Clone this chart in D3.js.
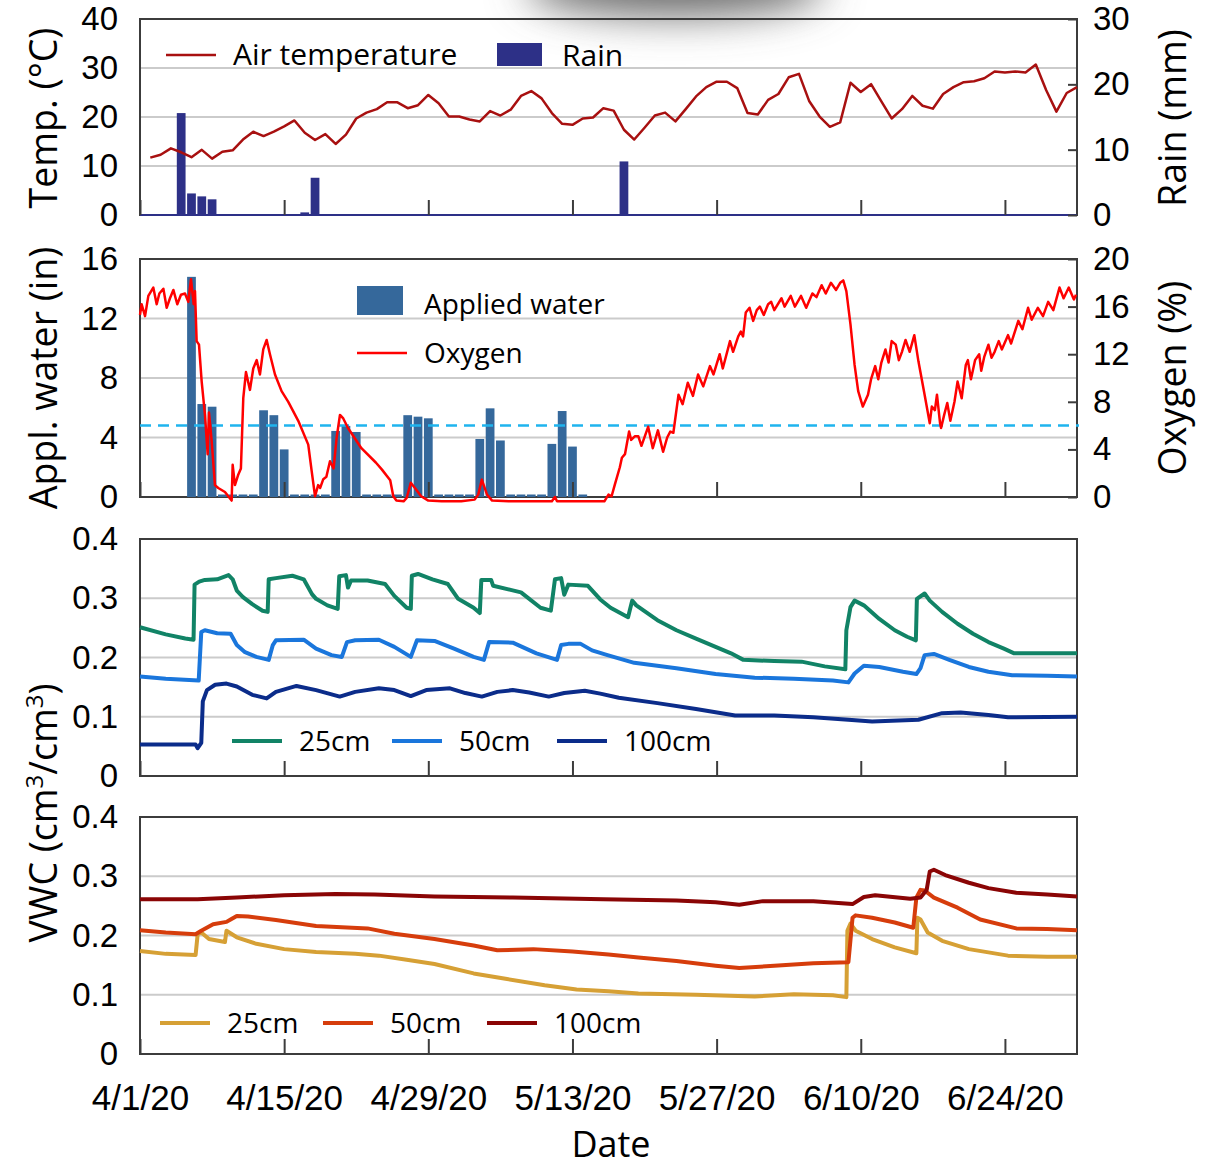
<!DOCTYPE html>
<html>
<head>
<meta charset="utf-8">
<script src="https://cdn.jsdelivr.net/npm/d3@7"></script>
<style>
  body { margin: 0; background: #fff; }
  svg { display: block; font-family: "Open Sans", sans-serif; }
</style>
</head>
<body>
<svg id="chart" width="1211" height="1168"></svg>
<script>
const parse = d3.timeParse("%-m/%-d/%y");
const startDate = "4/1/20";
const endDate = "7/1/20";
const tickDates = ["4/1/20", "4/15/20", "4/29/20", "5/13/20", "5/27/20", "6/10/20", "6/24/20"];

// daily mean air temperature (°C), one value per day starting 4/2/20
const tempStart = "4/2/20";
const tempValues = [
  11.7, 12.3, 13.6, 12.8, 11.8, 13.3, 11.5, 12.9, 13.2, 15.4,
  17.0, 16.1, 17.0, 18.1, 19.3, 16.8, 15.3, 16.5, 14.5, 16.4,
  19.7, 20.9, 21.6, 23.0, 23.0, 21.8, 22.4, 24.5, 22.8, 20.1,
  20.1, 19.5, 19.1, 21.2, 20.3, 21.5, 24.3, 25.3, 23.8, 20.8,
  18.6, 18.4, 19.7, 19.9, 21.8, 21.3, 17.4, 15.4, 17.8, 20.3,
  20.9, 19.1, 21.6, 24.2, 26.1, 27.2, 27.2, 25.9, 20.8, 20.5,
  23.5, 24.7, 28.1, 28.8, 23.2, 20.1, 18.0, 18.9, 27.0, 25.1,
  26.7, 23.2, 19.7, 21.6, 24.3, 22.3, 21.7, 24.7, 26.1, 27.1,
  27.3, 27.9, 29.3, 29.1, 29.3, 29.1, 30.7, 25.5, 21.1, 24.9, 26.1
];

// rain events (mm)
const rainDates = ["4/5/20", "4/6/20", "4/7/20", "4/8/20", "4/17/20", "4/18/20", "5/18/20"];
const rainValues = [15.6, 3.3, 2.85, 2.4, 0.4, 5.7, 8.2];

// applied water (in), one value per day starting 4/6/20
const waterStart = "4/6/20";
const waterValues = [
  14.8, 6.25, 6.07, 0, 0, 0, 0, 5.83, 5.5, 3.2,
  0, 0, 0, 0, 4.44, 4.78, 4.37, 0, 0, 0,
  0, 5.5, 5.4, 5.29, 0, 0, 0, 0, 3.9, 5.96,
  3.8, 0, 0, 0, 0, 3.57, 5.78, 3.39, 0
];

// soil oxygen (%): [days since 4/1/20, value]
const oxygen = [
  [0, 15.3], [0.16, 16.2], [0.49, 15.2], [0.81, 16.9], [1.29, 17.6], [1.62, 16.2], [1.88, 17.1],
  [2.27, 17.5], [2.59, 15.9], [2.91, 16.7], [3.24, 17.4], [3.62, 16.2], [3.98, 17.0], [4.37, 17.1],
  [4.69, 16.4], [4.95, 18.3], [5.21, 16.2], [5.34, 17.3], [5.5, 13.1], [5.73, 12.8], [5.99, 9.7],
  [6.31, 6.9], [6.57, 3.6], [6.7, 7.1], [6.96, 4.7], [7.28, 1.0], [7.6, 0.76], [8.25, 0.42],
  [8.9, -0.3], [9.0, 2.7], [9.22, 1.0], [9.55, 1.9], [9.8, 2.4], [10.03, 8.3], [10.29, 10.5],
  [10.68, 9.0], [11.0, 10.8], [11.33, 11.5], [11.65, 10.3], [11.97, 12.4], [12.3, 13.2],
  [12.62, 12.0], [13.11, 10.3], [13.75, 8.9], [14.4, 8.0], [15.37, 6.4], [16.34, 4.4],
  [16.67, 2.2], [17.0, 0.06], [17.3, 1.0], [17.5, 0.76], [17.8, 1.5], [18.1, 1.7], [18.45, 3.0],
  [18.8, 2.4], [19.1, 5.0], [19.42, 6.9], [19.74, 6.6], [20.2, 5.8], [21.5, 4.1], [22.9, 2.9],
  [23.5, 2.3], [24.3, 1.4], [24.6, 0.06], [24.9, -0.3], [25.6, -0.36], [25.9, -0.08], [26.3, 1.2],
  [26.7, 0.76], [27.3, 0.06], [28.0, -0.3], [29.3, -0.36], [31.2, -0.36], [32.5, -0.22],
  [32.85, 0.2], [33.2, 1.46], [33.7, 0.2], [34.2, -0.3], [35.8, -0.36], [40.0, -0.36], [40.3, 0],
  [40.5, -0.36], [42.2, -0.36], [45.1, -0.36], [45.5, 0.2], [45.8, 0.06], [46.1, 1.0], [46.6, 2.5],
  [46.8, 3.3], [47.1, 3.6], [47.5, 5.5], [47.7, 4.8], [48.05, 5.1], [48.4, 5.1], [48.7, 4.3],
  [49.35, 5.9], [49.8, 4.1], [50.3, 5.6], [50.8, 3.8], [51.2, 5.0], [51.5, 5.5], [51.8, 5.4],
  [52.3, 8.6], [52.7, 7.8], [53.2, 9.6], [53.7, 8.5], [54.2, 10.3], [54.7, 9.3], [55.35, 11.0],
  [55.7, 10.3], [56.3, 12.0], [56.6, 10.8], [57.3, 13.1], [57.6, 12.2], [58.1, 13.5], [58.35, 13.9],
  [58.57, 13.5], [58.83, 15.5], [59.2, 15.9], [59.55, 14.8], [59.9, 15.7], [60.2, 16.0],
  [60.58, 15.3], [61.0, 16.2], [61.3, 16.4], [61.6, 15.7], [62.3, 16.7], [62.6, 16.0], [63.2, 16.9],
  [63.6, 16.0], [64.2, 16.9], [64.7, 15.9], [65.3, 17.1], [65.7, 16.8], [66.2, 17.8], [66.6, 17.1],
  [67.1, 18.0], [67.6, 17.4], [68.0, 18.0], [68.3, 18.2], [68.6, 17.3], [69.0, 14.5], [69.4, 11.1],
  [69.75, 8.9], [70.2, 7.6], [70.7, 8.6], [71.0, 9.9], [71.4, 11.0], [71.7, 9.9], [72.0, 11.3],
  [72.4, 12.4], [72.7, 11.3], [73.0, 13.1], [73.4, 12.8], [73.7, 11.5], [74.0, 12.2], [74.35, 13.2],
  [74.75, 12.2], [75.2, 13.6], [75.6, 11.4], [76.2, 8.6], [76.7, 6.2], [76.9, 7.6], [77.2, 7.3],
  [77.4, 8.6], [77.7, 6.2], [77.8, 5.8], [78.1, 6.9], [78.4, 7.9], [78.7, 6.4], [79.1, 8.0],
  [79.4, 9.7], [79.8, 8.3], [80.2, 11.1], [80.4, 11.5], [80.7, 9.9], [81.1, 11.5], [81.5, 12.0],
  [81.7, 10.6], [82.0, 11.8], [82.4, 12.8], [82.7, 11.7], [83.0, 12.2], [83.4, 13.1], [83.7, 12.4],
  [84.3, 13.6], [84.6, 12.9], [85.3, 14.8], [85.7, 14.1], [86.25, 15.9], [86.6, 14.9], [87.2, 15.9],
  [87.7, 15.2], [88.2, 16.4], [88.7, 15.7], [89.3, 17.6], [89.7, 16.7], [90.2, 17.6], [90.7, 16.6],
  [90.9, 17.0]
];
const oxygenLimit = 6;

// VWC (cm3/cm3), first site: [days since 4/1/20, value]
const vwcA25 = [
  [0, 0.251], [2.5, 0.239], [4.4, 0.232], [5.2, 0.230], [5.3, 0.323], [5.75, 0.328], [6.3, 0.331],
  [7.5, 0.332], [8.6, 0.339], [9.0, 0.332], [9.4, 0.313], [10.0, 0.302], [10.9, 0.29], [11.9, 0.279],
  [12.4, 0.277], [12.5, 0.332], [13.2, 0.334], [14.8, 0.338], [15.9, 0.332], [16.7, 0.307],
  [17.1, 0.299], [18.2, 0.288], [19.2, 0.282], [19.35, 0.337], [20.0, 0.339], [20.2, 0.318],
  [20.5, 0.33], [22.1, 0.33], [23.8, 0.324], [24.7, 0.304], [25.9, 0.284], [26.3, 0.282],
  [26.4, 0.338], [27.0, 0.341], [28.4, 0.332], [29.9, 0.324], [30.9, 0.299], [32.4, 0.284],
  [33.0, 0.275], [33.15, 0.331], [34.1, 0.331], [34.3, 0.321], [37.0, 0.31], [38.9, 0.284],
  [39.9, 0.279], [40.3, 0.332], [40.9, 0.334], [41.2, 0.306], [41.6, 0.323], [43.5, 0.321],
  [44.7, 0.298], [45.7, 0.284], [47.4, 0.268], [47.8, 0.296], [48.2, 0.288], [50.25, 0.263],
  [52.1, 0.246], [54.0, 0.232], [55.9, 0.218], [57.4, 0.207], [58.6, 0.196], [61.6, 0.194],
  [64.25, 0.193], [66.5, 0.185], [68.5, 0.18], [68.6, 0.246], [69.0, 0.285], [69.4, 0.296],
  [70.3, 0.288], [71.8, 0.265], [73.3, 0.246], [74.5, 0.235], [75.35, 0.229], [75.45, 0.299],
  [76.2, 0.308], [76.7, 0.296], [77.9, 0.277], [79.4, 0.257], [80.9, 0.24], [82.4, 0.226],
  [83.9, 0.215], [84.9, 0.207], [88.1, 0.207], [91, 0.207]
];
const vwcA50 = [
  [0, 0.168], [2.5, 0.164], [5.7, 0.161], [5.95, 0.243], [6.3, 0.246], [7.5, 0.241], [8.8, 0.24],
  [9.4, 0.221], [10.2, 0.209], [11.3, 0.201], [12.5, 0.196], [12.9, 0.221], [13.2, 0.229],
  [15.9, 0.23], [17.1, 0.215], [18.6, 0.204], [19.6, 0.201], [20.1, 0.226], [20.9, 0.229],
  [23.2, 0.23], [24.7, 0.218], [26.3, 0.201], [26.9, 0.229], [28.6, 0.228], [30.5, 0.215],
  [32.4, 0.201], [33.4, 0.196], [33.9, 0.226], [36.2, 0.225], [38.5, 0.207], [40.5, 0.196],
  [40.9, 0.221], [41.6, 0.223], [42.8, 0.223], [43.9, 0.212], [45.4, 0.204], [48.0, 0.191],
  [52.1, 0.182], [55.9, 0.172], [59.7, 0.166], [63.5, 0.164], [67.3, 0.161], [68.8, 0.158],
  [69.4, 0.173], [70.3, 0.186], [71.8, 0.184], [74.1, 0.176], [75.4, 0.172], [75.8, 0.182],
  [76.2, 0.204], [77.1, 0.206], [78.6, 0.196], [80.5, 0.184], [82.4, 0.176], [84.7, 0.17],
  [88.1, 0.169], [91, 0.168]
];
const vwcA100 = [
  [0, 0.053], [5.4, 0.053], [5.6, 0.047], [5.95, 0.056], [6.1, 0.126], [6.5, 0.145], [7.3, 0.154],
  [8.4, 0.156], [9.4, 0.151], [10.9, 0.137], [12.3, 0.131], [13.2, 0.142], [15.2, 0.152],
  [17.1, 0.145], [19.4, 0.134], [20.9, 0.142], [23.2, 0.148], [24.7, 0.145], [26.3, 0.135],
  [27.8, 0.145], [30.1, 0.148], [31.6, 0.14], [33.2, 0.134], [34.7, 0.142], [36.2, 0.145],
  [37.8, 0.141], [39.7, 0.134], [41.2, 0.14], [43.2, 0.144], [44.7, 0.139], [46.5, 0.132],
  [50.25, 0.123], [54.0, 0.113], [57.8, 0.102], [61.6, 0.102], [65.4, 0.099], [68.8, 0.095],
  [71.1, 0.092], [75.6, 0.095], [77.9, 0.106], [79.7, 0.107], [82.4, 0.103], [84.3, 0.099],
  [91, 0.1]
];

// VWC (cm3/cm3), second site
const vwcB25 = [
  [0, 0.174], [2.5, 0.169], [5.4, 0.167], [5.6, 0.202], [5.95, 0.205], [6.7, 0.194], [8.25, 0.189],
  [8.4, 0.208], [9.4, 0.197], [11.3, 0.186], [14.0, 0.177], [17.1, 0.172], [20.9, 0.169],
  [23.2, 0.166], [25.9, 0.159], [28.6, 0.152], [32.4, 0.136], [35.5, 0.127], [39.3, 0.116],
  [42.4, 0.109], [45.5, 0.106], [48.4, 0.102], [54.0, 0.1], [59.7, 0.097], [63.5, 0.101],
  [67.3, 0.099], [68.6, 0.096], [68.7, 0.208], [69.0, 0.22], [69.5, 0.208], [71.1, 0.194],
  [73.3, 0.18], [75.4, 0.17], [75.5, 0.23], [75.8, 0.227], [76.5, 0.205], [77.9, 0.191],
  [80.5, 0.177], [84.3, 0.166], [88.1, 0.164], [91, 0.164]
];
const vwcB50 = [
  [0, 0.209], [2.5, 0.205], [5.4, 0.202], [5.95, 0.208], [7.1, 0.219], [8.4, 0.223], [8.8, 0.227],
  [9.4, 0.233], [10.5, 0.232], [13.2, 0.226], [17.1, 0.216], [22.1, 0.212], [24.7, 0.203],
  [28.6, 0.194], [32.4, 0.183], [34.7, 0.175], [38.2, 0.177], [42.0, 0.173], [45.5, 0.168],
  [48.4, 0.163], [52.1, 0.157], [55.9, 0.149], [58.2, 0.145], [61.6, 0.149], [65.4, 0.153],
  [68.8, 0.155], [69.2, 0.23], [69.5, 0.234], [71.1, 0.23], [73.3, 0.222], [75.1, 0.213],
  [75.4, 0.264], [75.8, 0.277], [76.2, 0.276], [77.1, 0.264], [79.4, 0.247], [81.6, 0.227],
  [85.1, 0.212], [88.1, 0.211], [91, 0.209]
];
const vwcB100 = [
  [0, 0.261], [5.6, 0.261], [9.4, 0.264], [14.0, 0.268], [19.0, 0.27], [22.8, 0.269], [28.6, 0.266],
  [36.2, 0.264], [45, 0.261], [52.1, 0.259], [55.9, 0.256], [58.2, 0.252], [60.5, 0.258],
  [65.4, 0.258], [69.2, 0.253], [70.3, 0.265], [71.4, 0.268], [74.8, 0.262], [75.8, 0.264],
  [76.4, 0.277], [76.7, 0.308], [77.1, 0.311], [78.2, 0.302], [80.5, 0.289], [82.4, 0.28],
  [85.1, 0.272], [88.1, 0.269], [91, 0.266]
];

const depthLabels = ["25cm", "50cm", "100cm"];

const svg = d3.select("#chart");
const t0 = parse(startDate);
const fromDay = (d) => d3.timeMinute.offset(t0, Math.round(d * 1440));

const x = d3.scaleTime().domain([t0, parse(endDate)]).range([140, 1077]);
const dayW = x(fromDay(1)) - x(t0);

const yTemp = d3.scaleLinear([0, 40], [215, 19]);
const yRain = d3.scaleLinear([0, 30], [215, 19]);
const yWater = d3.scaleLinear([0, 16], [497, 259]);
const yOxy = d3.scaleLinear([0, 20], [497, 259]);
const yVa = d3.scaleLinear([0, 0.4], [776, 539]);
const yVb = d3.scaleLinear([0, 0.4], [1054, 817]);

// grey smudge at the top of the picture
const defs = svg.append("defs");
defs.append("filter").attr("id", "blur")
  .attr("x", "-50%").attr("y", "-300%").attr("width", "200%").attr("height", "700%")
  .append("feGaussianBlur").attr("stdDeviation", 20);
svg.append("ellipse").attr("cx", 675).attr("cy", -14).attr("rx", 150).attr("ry", 30)
  .attr("fill", "#6a6a6a").attr("filter", "url(#blur)");

function grid(y, values) {
  svg.append("g").selectAll("line").data(values).join("line")
    .attr("x1", 140).attr("x2", 1077)
    .attr("y1", (d) => y(d)).attr("y2", (d) => y(d))
    .attr("stroke", "#cbcbcb").attr("stroke-width", 2);
}

function frame(y) {
  const [b, t] = y.range();
  svg.append("rect").attr("x", 140).attr("y", t)
    .attr("width", 937).attr("height", b - t)
    .attr("fill", "none").attr("stroke", "#3c3c3c").attr("stroke-width", 2);
}

function leftAxis(y, values) {
  const g = svg.append("g").attr("transform", "translate(140,0)")
    .call(d3.axisLeft(y).tickValues(values).tickSize(0).tickPadding(22).tickFormat((d) => String(d)));
  g.select(".domain").remove();
  g.selectAll("text").attr("font-size", 33).attr("fill", "#000").attr("font-family", null);
}

function rightAxis(y, values) {
  const g = svg.append("g").attr("transform", "translate(1077,0)")
    .call(d3.axisRight(y).tickValues(values).tickSizeInner(-9).tickSizeOuter(0).tickPadding(16));
  g.select(".domain").remove();
  g.selectAll("line").attr("stroke", "#3c3c3c").attr("stroke-width", 2);
  g.selectAll("text").attr("font-size", 33).attr("fill", "#000").attr("font-family", null);
}

function bottomTicks(y, labels) {
  const g = svg.append("g").attr("transform", `translate(0,${y.range()[0]})`)
    .call(d3.axisBottom(x).tickValues(tickDates.map(parse))
      .tickSizeInner(-15).tickSizeOuter(0).tickPadding(31)
      .tickFormat(labels ? d3.timeFormat("%-m/%-d/%y") : ""));
  g.select(".domain").remove();
  g.selectAll("line").attr("stroke", "#3c3c3c").attr("stroke-width", 2);
  g.selectAll("text").attr("font-size", 35).attr("fill", "#000").attr("font-family", null);
}

function series(data, y, color, width) {
  svg.append("path").datum(data)
    .attr("fill", "none").attr("stroke", color).attr("stroke-width", width)
    .attr("stroke-linejoin", "round")
    .attr("d", d3.line().x((d) => x(fromDay(d[0]))).y((d) => y(d[1])));
}

function vTitle(cx, cy, parts) {
  const t = svg.append("text").attr("transform", `translate(${cx},${cy}) rotate(-90)`)
    .attr("text-anchor", "middle").attr("font-size", 37.5).attr("fill", "#000");
  parts.forEach((p) => {
    const s = t.append("tspan").text(p.text);
    if (p.sup) s.attr("font-size", 24).attr("dy", -14);
    if (p.after) s.attr("dy", 14);
  });
}

function legendLine(x1, y, color, width, label, size) {
  svg.append("line").attr("x1", x1).attr("x2", x1 + 50).attr("y1", y).attr("y2", y)
    .attr("stroke", color).attr("stroke-width", width);
  svg.append("text").attr("x", x1 + 67).attr("y", y + 10)
    .attr("font-size", size || 28).attr("fill", "#000").text(label);
}

// ---------- panel 1: temperature and rain ----------
const tempColor = "#a81010";
const rainColor = "#2d3087";
grid(yTemp, [10, 20, 30]);
frame(yTemp);
svg.append("line").attr("x1", 140).attr("x2", 1077).attr("y1", 215).attr("y2", 215)
  .attr("stroke", rainColor).attr("stroke-width", 2);
const barW = dayW * 0.85;
svg.append("g").selectAll("rect").data(rainDates).join("rect")
  .attr("x", (d) => x(parse(d)) - barW / 2)
  .attr("y", (d, i) => yRain(rainValues[i]))
  .attr("width", barW)
  .attr("height", (d, i) => yRain(0) - yRain(rainValues[i]))
  .attr("fill", rainColor);
const tStart = parse(tempStart);
svg.append("path").datum(tempValues)
  .attr("fill", "none").attr("stroke", tempColor).attr("stroke-width", 2.5)
  .attr("stroke-linejoin", "round")
  .attr("d", d3.line().x((d, i) => x(d3.timeDay.offset(tStart, i))).y((d) => yTemp(d)));
bottomTicks(yTemp, false);
leftAxis(yTemp, [0, 10, 20, 30, 40]);
rightAxis(yRain, [0, 10, 20, 30]);
legendLine(166, 55, tempColor, 2.5, "Air temperature", 30);
svg.append("rect").attr("x", 497).attr("y", 43).attr("width", 45).attr("height", 23).attr("fill", rainColor);
svg.append("text").attr("x", 562).attr("y", 66).attr("font-size", 30).attr("fill", "#000").text("Rain");
vTitle(57, 118, [{ text: "Temp. (°C)" }]);
vTitle(1186, 118, [{ text: "Rain (mm)" }]);

// ---------- panel 2: applied water and oxygen ----------
const waterColor = "#35689b";
const oxyColor = "#ff0000";
grid(yWater, [4, 8, 12]);
frame(yWater);
const wStart = parse(waterStart);
svg.append("g").selectAll("rect").data(waterValues).join("rect")
  .attr("x", (d, i) => x(d3.timeDay.offset(wStart, i)) - barW / 2)
  .attr("y", (d) => Math.min(yWater(d), yWater(0) - 2.5))
  .attr("width", barW)
  .attr("height", (d) => Math.max(yWater(0) - yWater(d), 2.5))
  .attr("fill", waterColor);
svg.append("line").attr("x1", 140).attr("x2", 1079)
  .attr("y1", yOxy(oxygenLimit)).attr("y2", yOxy(oxygenLimit))
  .attr("stroke", "#1fb4ee").attr("stroke-width", 2.5).attr("stroke-dasharray", "11,7");
series(oxygen, yOxy, oxyColor, 2.5);
bottomTicks(yWater, false);
leftAxis(yWater, [0, 4, 8, 12, 16]);
rightAxis(yOxy, [0, 4, 8, 12, 16, 20]);
svg.append("rect").attr("x", 357).attr("y", 286).attr("width", 46).attr("height", 29).attr("fill", waterColor);
svg.append("text").attr("x", 424).attr("y", 314).attr("font-size", 28).attr("fill", "#000").text("Applied water");
legendLine(357, 353, oxyColor, 2.5, "Oxygen");
vTitle(57, 378, [{ text: "Appl. water (in)" }]);
vTitle(1186, 378, [{ text: "Oxygen (%)" }]);

// ---------- panel 3: VWC, first site ----------
const colorsA = ["#118366", "#1a76dc", "#0b2c8a"];
grid(yVa, [0.1, 0.2, 0.3]);
frame(yVa);
[vwcA25, vwcA50, vwcA100].forEach((s, i) => series(s, yVa, colorsA[i], 4));
bottomTicks(yVa, false);
leftAxis(yVa, [0, 0.1, 0.2, 0.3, 0.4]);
[232, 392, 557].forEach((lx, i) => legendLine(lx, 741, colorsA[i], 4, depthLabels[i]));

// ---------- panel 4: VWC, second site ----------
const colorsB = ["#d6a035", "#d63d0c", "#8a0505"];
grid(yVb, [0.1, 0.2, 0.3]);
frame(yVb);
[vwcB25, vwcB50, vwcB100].forEach((s, i) => series(s, yVb, colorsB[i], 4));
bottomTicks(yVb, true);
leftAxis(yVb, [0, 0.1, 0.2, 0.3, 0.4]);
[160, 323, 487].forEach((lx, i) => legendLine(lx, 1023, colorsB[i], 4, depthLabels[i]));

vTitle(57, 813, [{ text: "VWC (cm" }, { text: "3", sup: true }, { text: "/cm", after: true },
  { text: "3", sup: true }, { text: ")", after: true }]);

svg.append("text").attr("x", 611).attr("y", 1157).attr("text-anchor", "middle")
  .attr("font-size", 36).attr("fill", "#000").text("Date");
</script>
</body>
</html>
